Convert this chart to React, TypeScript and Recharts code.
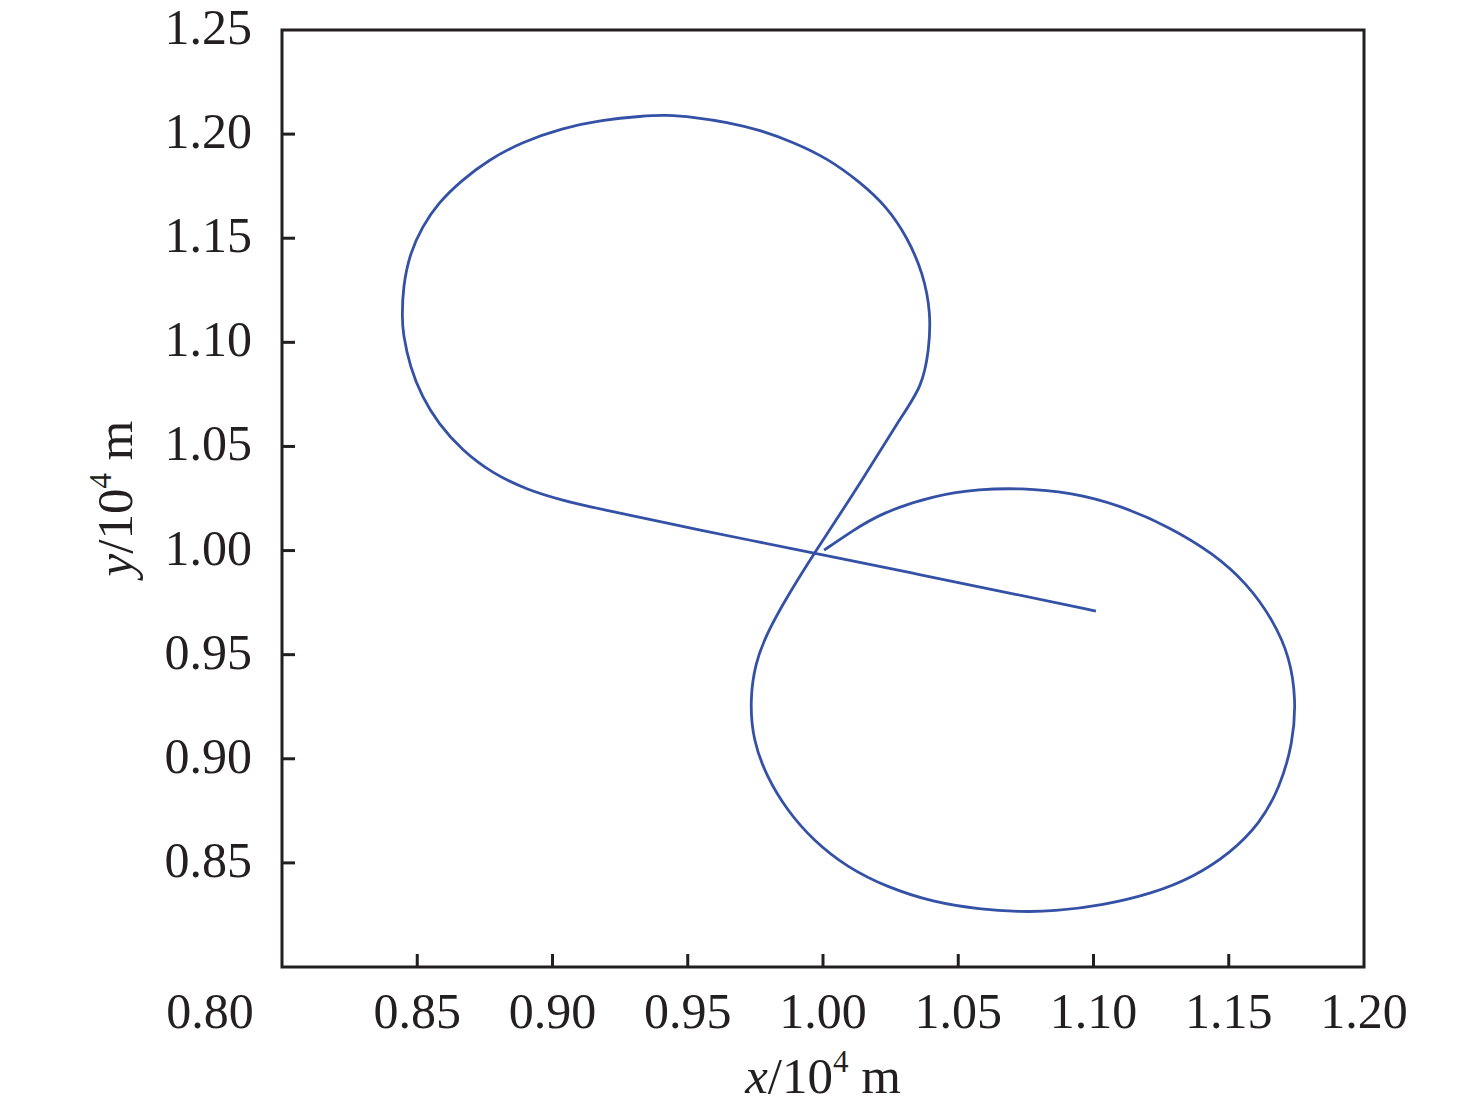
import React from 'react';
import { LineChart, Line, XAxis, YAxis, ReferenceArea } from 'recharts';

// trajectory, in 10^4 m, in flight order
const xValues = [
  1.0004, 1.0107, 1.0214, 1.0414, 1.058, 1.0728, 1.0913, 1.1098, 1.1283, 1.1442,
  1.1567, 1.1664, 1.1726, 1.1749, 1.1737, 1.1689, 1.1616, 1.1505, 1.1368, 1.122,
  1.1035, 1.085, 1.0728, 1.058, 1.0407, 1.0237, 1.0089, 0.9963, 0.9867, 0.9793,
  0.9741, 0.973, 0.9749, 0.9793, 0.986, 0.9967, 1.0122, 1.0285, 1.0366, 1.0392,
  1.0399, 1.037, 1.0311, 1.0237, 1.0137, 1.0015, 0.9889, 0.9767, 0.9645, 0.9519,
  0.9423, 0.9331, 0.9183, 0.9035, 0.8887, 0.8762, 0.8665, 0.8577, 0.8518, 0.8473,
  0.8447, 0.8444, 0.8447, 0.8473, 0.8518, 0.8577, 0.8665, 0.8776, 0.8909, 0.9035,
  0.9157, 0.9545, 0.997, 1.0348, 1.0728, 1.1009,
];
const yValues = [
  1.0002, 1.0093, 1.018, 1.0266, 1.0295, 1.03, 1.028, 1.0218, 1.0112, 0.9987,
  0.9843, 0.9666, 0.9488, 0.9281, 0.9075, 0.8863, 0.869, 0.8546, 0.8431, 0.8354,
  0.8296, 0.8267, 0.8265, 0.8277, 0.8311, 0.8383, 0.8479, 0.8609, 0.8753, 0.8911,
  0.9089, 0.9281, 0.9459, 0.9603, 0.9762, 0.9987, 1.029, 1.0636, 1.0785, 1.0963,
  1.114, 1.1333, 1.1506, 1.165, 1.177, 1.1885, 1.1962, 1.202, 1.2058, 1.2082,
  1.2092, 1.2087, 1.2068, 1.2029, 1.1962, 1.1875, 1.1779, 1.1669, 1.1554, 1.1429,
  1.1265, 1.1121, 1.1044, 1.0881, 1.0737, 1.0612, 1.0482, 1.0372, 1.029, 1.0242,
  1.0204, 1.0098, 0.9987, 0.9887, 0.9786, 0.9709,
];

const xTicks = [0.8, 0.85, 0.9, 0.95, 1.0, 1.05, 1.1, 1.15, 1.2];
const yTicks = [0.85, 0.9, 0.95, 1.0, 1.05, 1.1, 1.15, 1.2, 1.25];

const trajectory = xValues.map((x, i) => ({ x, y: yValues[i] }));

const FONT = '"Liberation Serif", "Times New Roman", serif';
const INK = '#231f20';
const BLUE = '#3451a6';

function XTick({ x, y, payload }: any) {
  const v = payload.value as number;
  // the 0.80 label sits left of the corner in the original
  const shift = v === 0.8 ? -72 : 0;
  return (
    <g>
      {v > 0.8 && v < 1.2 && (
        <line x1={x} x2={x} y1={y} y2={y - 13} stroke={INK} strokeWidth={3} />
      )}
      <text x={x + shift} y={y + 61} textAnchor="middle" fontFamily={FONT} fontSize={50} fill={INK}>
        {v.toFixed(2)}
      </text>
    </g>
  );
}

function YTick({ x, y, payload }: any) {
  const v = payload.value as number;
  return (
    <g>
      {v < 1.25 && <line x1={x} x2={x + 13} y1={y} y2={y} stroke={INK} strokeWidth={3} />}
      <text x={x - 30} y={y + 14} textAnchor="end" fontFamily={FONT} fontSize={50} fill={INK}>
        {v.toFixed(2)}
      </text>
    </g>
  );
}

function XTitle({ viewBox }: any) {
  const cx = viewBox.x + viewBox.width / 2;
  const cy = viewBox.y + 126;
  return (
    <text x={cx} y={cy} textAnchor="middle" fontFamily={FONT} fontSize={51} fill={INK}>
      <tspan fontStyle="italic">x</tspan>
      <tspan>/10</tspan>
      <tspan fontSize={31} dy={-21}>4</tspan>
      <tspan dy={21}> m</tspan>
    </text>
  );
}

function YTitle({ viewBox }: any) {
  const cx = viewBox.x + viewBox.width - 150;
  const cy = viewBox.y + viewBox.height / 2;
  return (
    <text
      x={cx}
      y={cy}
      textAnchor="middle"
      transform={`rotate(-90, ${cx}, ${cy})`}
      fontFamily={FONT}
      fontSize={51}
      fill={INK}
    >
      <tspan fontStyle="italic">y</tspan>
      <tspan>/10</tspan>
      <tspan fontSize={31} dy={-21}>4</tspan>
      <tspan dy={21}> m</tspan>
    </text>
  );
}

export default function App() {
  return (
    <div style={{ width: 1460, height: 1108, marginTop: -8 }}>
      <LineChart
        width={1460}
        height={1108}
        data={trajectory}
        margin={{ top: 30, right: 104, bottom: 1, left: 0 }}
      >
        <XAxis
          type="number"
          dataKey="x"
          domain={[0.8, 1.2]}
          ticks={xTicks}
          interval={0}
          allowDataOverflow
          height={140}
          axisLine={false}
          tickLine={false}
          tickSize={0}
          tickMargin={0}
          tick={<XTick />}
          label={(props: any) => <XTitle {...props} />}
        />
        <YAxis
          type="number"
          dataKey="y"
          domain={[0.8, 1.25]}
          ticks={yTicks}
          interval={0}
          allowDataOverflow
          width={274}
          axisLine={false}
          tickLine={false}
          tickSize={0}
          tickMargin={0}
          tick={<YTick />}
          label={(props: any) => <YTitle {...props} />}
        />
        <ReferenceArea
          x1={0.8}
          x2={1.2}
          y1={0.8}
          y2={1.25}
          fill="none"
          fillOpacity={0}
          stroke={INK}
          strokeWidth={3}
        />
        <Line
          type="basis"
          dataKey="y"
          stroke={BLUE}
          strokeWidth={2.8}
          dot={false}
          activeDot={false}
          isAnimationActive={false}
        />
      </LineChart>
    </div>
  );
}
